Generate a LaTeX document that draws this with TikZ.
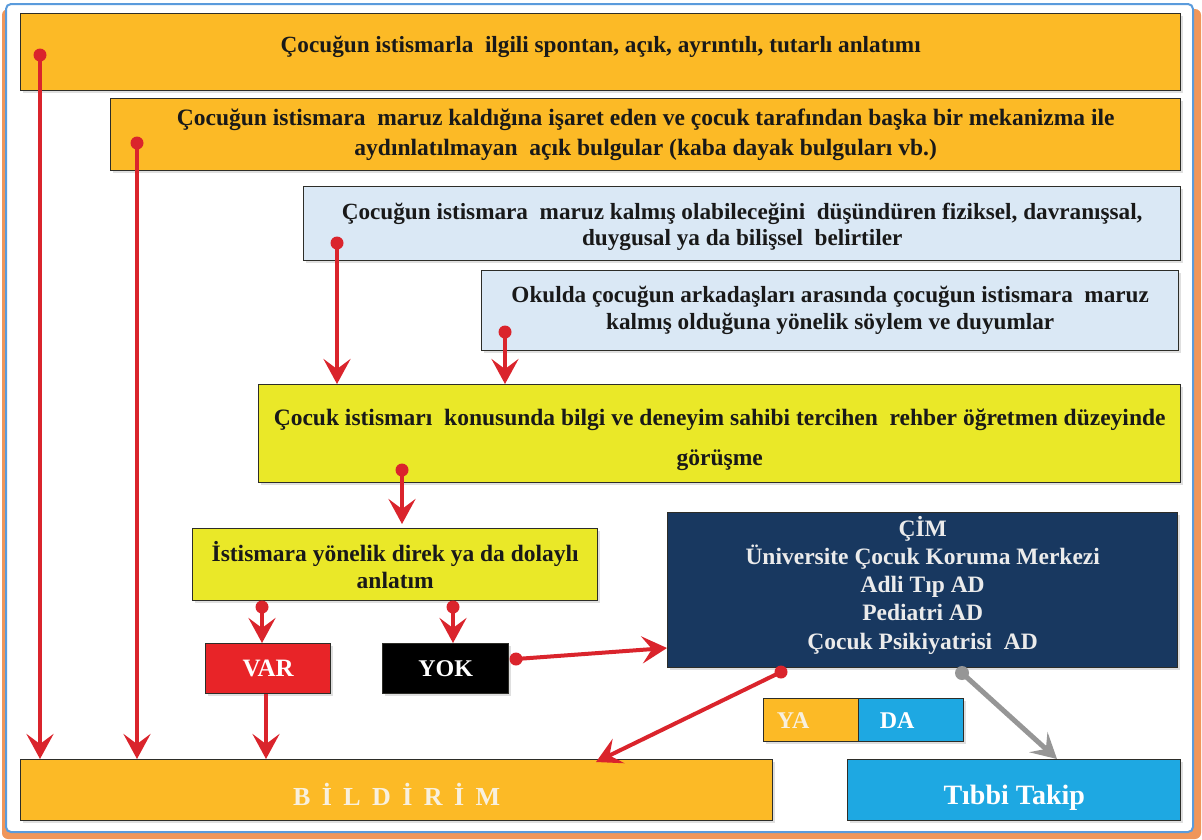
\documentclass[tikz,border=0pt]{standalone}
\usepackage{fontspec}
\setmainfont{Liberation Serif}
\usetikzlibrary{arrows.meta,shadows,calc}

\definecolor{orng}{RGB}{252,186,38}
\definecolor{lblue}{RGB}{218,232,245}
\definecolor{ylw}{RGB}{234,232,40}
\definecolor{navy}{RGB}{24,56,96}
\definecolor{redbox}{RGB}{232,36,40}
\definecolor{cyanbox}{RGB}{30,168,226}
\definecolor{boxline}{RGB}{45,45,40}
\definecolor{arrred}{RGB}{218,36,44}
\definecolor{arrgray}{RGB}{150,150,150}
\definecolor{framecol}{RGB}{90,155,220}
\definecolor{shadecol}{RGB}{240,150,90}
\definecolor{txt}{RGB}{25,25,25}
\definecolor{cream}{RGB}{248,240,222}

\newcommand{\myfs}[2]{\fontsize{#1}{#2}\selectfont}
\newcommand{\dpt}[1]{\rule[-#1]{0pt}{0pt}}
\newcommand{\hgt}[1]{\rule{0pt}{#1}}

\tikzset{
  box/.style={draw=boxline, line width=1.4pt, anchor=north west, inner sep=0pt,
    align=center, text=txt, drop shadow={opacity=0.25, shadow xshift=2pt, shadow yshift=-2pt}},
  redarrow/.style={draw=arrred, line width=4pt, -{Stealth[length=25pt,width=27pt,inset=10pt]}},
  grayarrow/.style={draw=arrgray, line width=5pt, -{Stealth[length=25pt,width=27pt,inset=10pt]}},
  dotred/.style={fill=arrred},
  dotgray/.style={fill=arrgray},
}

\begin{document}
\begin{tikzpicture}[x=1pt,y=-1pt]
\useasboundingbox (0,0) rectangle (1202,839);
% frame
\fill[shadecol, rounded corners=6] (2,9) rectangle (1201,839);
\filldraw[fill=white, draw=framecol, line width=2pt, rounded corners=5] (6,4) rectangle (1193,832);

% boxes
\node[box, fill=orng, minimum width=1160, minimum height=77, font={\bfseries\myfs{23.2}{27}}] (b1) at (20,13)
  {Çocuğun istismarla\ \ ilgili spontan, açık, ayrıntılı, tutarlı anlatımı\dpt{15pt}};
\node[box, fill=orng, minimum width=1070, minimum height=72, font={\bfseries\myfs{23.5}{30}}] (b2) at (110,98)
  {Çocuğun istismara\ \ maruz kaldığına işaret eden ve çocuk tarafından başka bir mekanizma ile\\
   aydınlatılmayan\ \ açık bulgular (kaba dayak bulguları vb.)};
\node[box, fill=lblue, minimum width=877, minimum height=74, font={\bfseries\myfs{23.2}{26}}] (b3) at (303,186)
  {\hgt{22pt}Çocuğun istismara\ \ maruz kalmış olabileceğini\ \ düşündüren fiziksel, davranışsal,\\
   duygusal ya da bilişsel\ \ belirtiler};
\node[box, fill=lblue, minimum width=697, minimum height=80, font={\bfseries\myfs{23.2}{27}}] (b4) at (481,270)
  {Okulda çocuğun arkadaşları arasında çocuğun istismara\ \ maruz\\
   kalmış olduğuna yönelik söylem ve duyumlar};
\node[box, fill=ylw, minimum width=922, minimum height=98, font={\bfseries\myfs{23.5}{40}}] (b5) at (258,384)
  {\hgt{28pt}Çocuk istismarı\ \ konusunda bilgi ve deneyim sahibi tercihen\ \ rehber öğretmen düzeyinde\\
   görüşme};
\node[box, fill=ylw, minimum width=405, minimum height=72, font={\bfseries\myfs{23.5}{27}}] (b6) at (192,528)
  {İstismara yönelik direk ya da dolaylı\\ anlatım};
\node[box, fill=redbox, minimum width=125, minimum height=50, text=white, font={\bfseries\myfs{25}{28}}] (var) at (205,643) {VAR};
\node[box, fill=black, minimum width=126, minimum height=50, text=white, font={\bfseries\myfs{24}{28}}] (yok) at (382,643) {YOK};
\node[box, fill=navy, minimum width=510, minimum height=155, text=white!92!black, font={\bfseries\myfs{23.5}{28.2}}] (cim) at (667,512)
  {ÇİM\\ Üniversite Çocuk Koruma Merkezi\\ Adli Tıp AD\\ Pediatri AD\\ Çocuk Psikiyatrisi\ \ AD\dpt{15pt}};
\node[box, fill=orng, minimum width=95, minimum height=43, text=cream, font={\bfseries\myfs{24}{28}}] (ya) at (763,698) {YA\hspace{36pt}};
\node[box, fill=cyanbox, minimum width=105, minimum height=43, text=white, font={\bfseries\myfs{24}{28}}] (da) at (858,698) {DA\hspace{28pt}};
\node[box, fill=orng, minimum width=752, minimum height=61, text=cream, font={\bfseries\myfs{26}{30}}] (bild) at (20,759)
  {\hgt{31pt}B\hspace{11.4pt}İ\hspace{11.4pt}L\hspace{11.4pt}D\hspace{11.4pt}İ\hspace{11.4pt}R\hspace{11.4pt}İ\hspace{11.4pt}M};
\node[box, fill=cyanbox, minimum width=333, minimum height=61, text=white, font={\bfseries\myfs{28}{30}}] (tib) at (847,759)
  {\hgt{35pt}Tıbbi Takip};

% start dots
\coordinate (d1) at (40,55);
\coordinate (d2) at (137,143);
\coordinate (d3) at (337,243);
\coordinate (d4) at (505,332);
\coordinate (d5) at (402,470);
\coordinate (d6) at (262,607);
\coordinate (d7) at (453,607);
\coordinate (d8) at (266,700);
\coordinate (d9) at (516,659);
\coordinate (e9) at (667,648);
\coordinate (d10) at (781,672);
\coordinate (e10) at (596,762);
\coordinate (d11) at (962,673);
\coordinate (e11) at (1057,759);

% arrows
\draw[redarrow] (d1) -- (d1 |- bild.north);
\draw[redarrow] (d2) -- (d2 |- bild.north);
\draw[redarrow] (d3) -- (d3 |- b5.north);
\draw[redarrow] (d4) -- (d4 |- b5.north);
\draw[redarrow, shorten >=4pt] (d5) -- (d5 |- b6.north);
\draw[redarrow] (d6) -- (d6 |- var.north);
\draw[redarrow] (d7) -- (d7 |- yok.north);
\draw[redarrow] (var.south -| d8) -- (d8 |- bild.north);
\draw[redarrow] (d9) -- (e9);
\draw[redarrow] (d10) -- (e10);
\draw[grayarrow] (d11) -- (e11);

\foreach \p in {d1,d2,d3,d4,d5,d6,d7,d9,d10} \fill[dotred] (\p) circle (6.5);
\fill[dotgray] (d11) circle (7);
\end{tikzpicture}
\end{document}
